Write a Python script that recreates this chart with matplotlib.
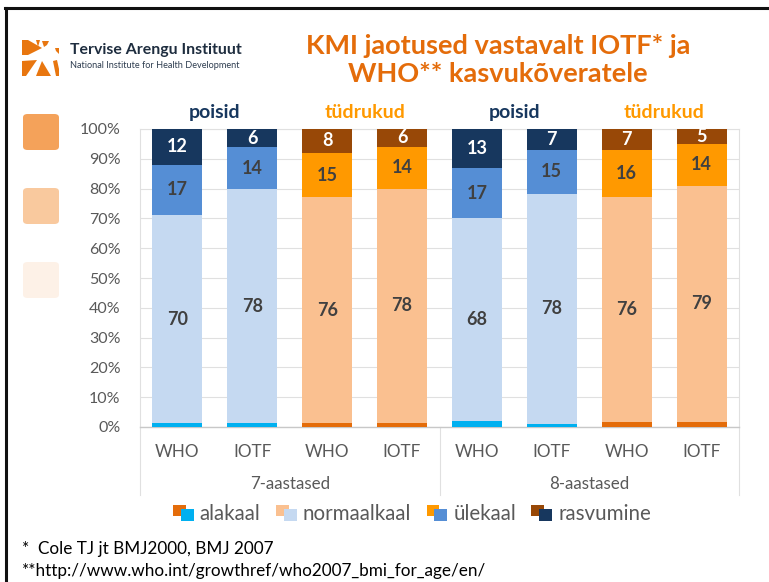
import matplotlib
matplotlib.use("Agg")
import matplotlib.pyplot as plt
import numpy as np
from matplotlib.patches import Rectangle, FancyBboxPatch, Polygon
from matplotlib.legend_handler import HandlerBase
from matplotlib.lines import Line2D
import matplotlib.transforms as mtransforms

plt.rcParams['font.family'] = ['Lato', 'DejaVu Sans']

# ---------------- data ----------------
categories = ["WHO", "IOTF", "WHO", "IOTF", "WHO", "IOTF", "WHO", "IOTF"]
age_groups = ["7-aastased", "8-aastased"]
sex_headers = ["poisid", "tüdrukud", "poisid", "tüdrukud"]
series_names = ["alakaal", "normaalkaal", "ülekaal", "rasvumine"]
alakaal = [1.3, 1.2, 1.2, 1.5, 2.0, 1.0, 1.6, 1.8]
normaalkaal = [70, 78, 76, 78, 68, 78, 76, 79]
ulekaal = [17, 14, 15, 14, 17, 15, 16, 14]
rasvumine = [12, 6, 8, 6, 13, 7, 7, 5]
is_girl = [False, False, True, True, False, False, True, True]

boy_colors = ["#00B0F0", "#C5D9F1", "#558ED5", "#17375E"]
girl_colors = ["#E46C0A", "#FAC090", "#FF9900", "#984807"]
label_colors = [None, "#404040", "#404040", "white"]

title_color = "#E46C0A"
tick_color = "#595959"
grid_color = "#E0E0E0"

# ---------------- figure ----------------
W, H = 769, 582
fig = plt.figure(figsize=(W / 100, H / 100), dpi=100)
fig.patch.set_facecolor("white")

def fx(px):
    return px / W

def fy(py):
    return 1 - py / H

ax = fig.add_axes([fx(140), fy(427), fx(739) - fx(140), fy(129) - fy(427)])

series = [alakaal, normaalkaal, ulekaal, rasvumine]
data = np.array(series, dtype=float)
totals = data.sum(axis=0)
pct = data / totals * 100

x = np.arange(len(categories))
bottom = np.zeros(len(categories))
for si in range(len(series)):
    cols = [girl_colors[si] if g else boy_colors[si] for g in is_girl]
    ax.bar(x, pct[si], bottom=bottom, width=0.667, color=cols, zorder=3)
    if label_colors[si] is not None:
        for i in range(len(x)):
            ax.text(x[i], bottom[i] + pct[si][i] / 2, f"{int(round(data[si][i]))}",
                    ha="center", va="center", fontsize=13, fontweight="bold",
                    color=label_colors[si], zorder=4)
    bottom += pct[si]

ax.set_xlim(-0.5, len(categories) - 0.5)
ax.set_ylim(0, 100)
ax.set_yticks(np.arange(0, 101, 10))
ax.set_yticklabels([f"{v}%" for v in range(0, 101, 10)])
ax.set_xticks(x)
ax.set_xticklabels(categories)
ax.tick_params(axis="both", length=0, labelcolor=tick_color)
ax.tick_params(axis="y", labelsize=11.5, pad=14)
ax.tick_params(axis="x", labelsize=12.3, pad=12)
ax.grid(axis="y", color=grid_color, lw=0.8, zorder=0)
ax.set_axisbelow(True)
for s in ["top", "right", "left"]:
    ax.spines[s].set_color(grid_color)
    ax.spines[s].set_linewidth(0.8)
ax.spines["bottom"].set_color("#C8C8C8")
ax.spines["bottom"].set_linewidth(1.0)

trans = mtransforms.blended_transform_factory(ax.transData, ax.transAxes)
# separators between age groups
n_per = len(categories) // len(age_groups)
for k in range(len(age_groups) + 1):
    xs = k * n_per - 0.5
    ax.add_line(Line2D([xs, xs], [0, -0.228], transform=trans, color=grid_color,
                       lw=0.8, clip_on=False))
for k, g in enumerate(age_groups):
    xc = k * n_per + (n_per - 1) / 2
    ax.text(xc, -0.192, g, transform=trans, ha="center", va="center",
            fontsize=12.2, color=tick_color)

# sex headers
for k, s in enumerate(sex_headers):
    xc = 2 * k + 0.5
    col = "#17375E" if s == "poisid" else "#FF9900"
    ax.text(xc, 1.054, s, transform=trans, ha="center", va="center",
            fontsize=14, fontweight="bold", color=col)

# legend with paired squares
class PairHandle:
    def __init__(self, c1, c2):
        self.c1, self.c2 = c1, c2

class PairHandler(HandlerBase):
    def create_artists(self, legend, orig_handle, xdescent, ydescent, width,
                       height, fontsize, trans):
        sw, sh = width * 0.62, height * 0.72
        r1 = Rectangle((-xdescent, -ydescent + height - sh), sw, sh,
                       facecolor=orig_handle.c1, edgecolor="none", transform=trans)
        r2 = Rectangle((-xdescent + width - sw, -ydescent), sw, sh,
                       facecolor=orig_handle.c2, edgecolor="none", transform=trans)
        return [r1, r2]

handles = [PairHandle(girl_colors[i], boy_colors[i]) for i in range(4)]
leg = fig.legend(handles, series_names, handler_map={PairHandle: PairHandler()},
                 loc="center", bbox_to_anchor=(fx(412), fy(514)), ncol=4,
                 frameon=False, fontsize=14.8, handlelength=1.0, handleheight=0.85,
                 handletextpad=0.3, columnspacing=0.75, borderpad=0)
for t in leg.get_texts():
    t.set_color(tick_color)

# title
fig.text(fx(498), fy(60), "KMI jaotused vastavalt IOTF* ja\nWHO** kasvukõveratele",
         ha="center", va="center", fontsize=19.5, fontweight="bold",
         color=title_color, linespacing=1.15)

# frame lines
fig.add_artist(Line2D([fx(5), 1], [fy(8), fy(8)], color="#111111", lw=2.2))
fig.add_artist(Line2D([fx(6), fx(6)], [fy(8), 0], color="#111111", lw=2.2))

# left decorative squares
for py, c in [(113, "#F4A25A"), (187, "#F9C99E"), (261, "#FDF1E7")]:
    fig.add_artist(FancyBboxPatch((fx(23), fy(py + 37)), fx(36), 36 / H,
                                  boxstyle="round,pad=0,rounding_size=0.006",
                                  facecolor=c, edgecolor="none"))

# logo
lax = fig.add_axes([fx(22), fy(77), fx(38), 38 / H])
lax.set_xlim(0, 38)
lax.set_ylim(38, 0)
lax.axis("off")
orange = "#E8760F"
polys = [
    [(0, 1), (6, 1), (20, 9), (6, 16), (0, 16)],
    [(14, 1), (18, 1), (16, 8)],
    [(20, 2), (27, 2), (25, 6), (22, 8)],
    [(33, 9), (37, 9), (37, 15), (34, 12)],
    [(0, 22), (15, 21), (4, 37), (0, 37)],
    [(20, 22), (29, 37), (14, 37)],
    [(31, 22), (35, 21), (37, 30), (37, 37), (34, 37)],
]
for p in polys:
    lax.add_patch(Polygon(p, closed=True, facecolor=orange, edgecolor="none"))

fig.text(fx(70), fy(50), "Tervise Arengu Instituut", ha="left", va="center",
         fontsize=11.4, fontweight="bold", color="#1E2D3F")
fig.text(fx(70), fy(66), "National Institute for Health Development", ha="left",
         va="center", fontsize=6.6, color="#2E3D50")

# footnotes
fig.text(fx(22), fy(549), "*  Cole TJ jt BMJ2000, BMJ 2007", ha="left", va="center",
         fontsize=12.3, color="black")
fig.text(fx(22), fy(571), "**http://www.who.int/growthref/who2007_bmi_for_age/en/",
         ha="left", va="center", fontsize=12.3, color="black")

fig.savefig("out.png", dpi=100)
